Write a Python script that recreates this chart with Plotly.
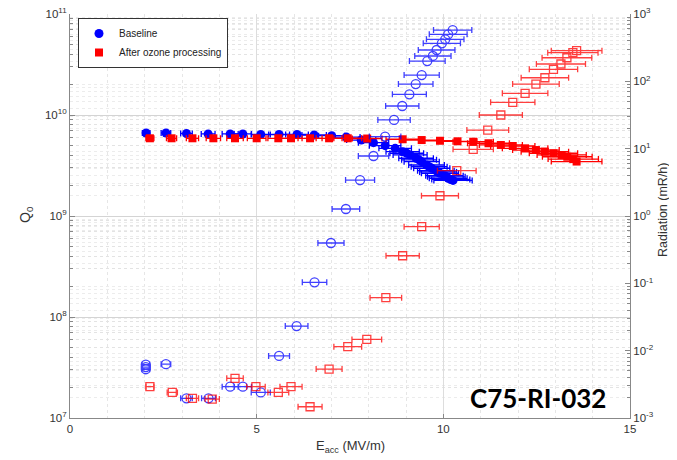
import plotly.graph_objects as go

# ---------------- data ----------------
base_q_E = [2.04, 2.57, 3.12, 3.70, 4.29, 4.63, 5.11, 5.60, 6.08, 6.54, 7.01, 7.40, 7.80, 8.13,
            8.44, 8.71, 8.91, 9.02, 9.11, 9.27, 9.35, 9.42, 9.55, 9.62, 9.69, 9.80, 9.86, 9.91,
            10.03, 10.08, 10.13, 10.20, 10.26]
base_q = [6.64e9, 6.64e9, 6.56e9, 6.49e9, 6.49e9, 6.49e9, 6.41e9, 6.41e9, 6.41e9, 6.34e9, 6.24e9,
          6.05e9, 5.65e9, 5.32e9, 4.97e9, 4.68e9, 4.33e9, 4.18e9, 4.02e9, 3.73e9, 3.60e9, 3.45e9,
          3.20e9, 3.08e9, 2.97e9, 2.81e9, 2.73e9, 2.65e9, 2.51e9, 2.44e9, 2.36e9, 2.30e9, 2.25e9]

base_r_E = [2.03, 2.03, 2.03, 2.57, 3.12, 3.71, 4.29, 4.63, 5.11, 5.60, 6.07, 6.55, 6.99, 7.39,
            7.77, 8.13, 8.44, 8.68, 8.90, 9.09, 9.26, 9.42, 9.57, 9.72, 9.82, 9.96, 10.05, 10.13, 10.25]
base_r = [0.0062, 0.0057, 0.0053, 0.0063, 0.00196, 0.00196, 0.00292, 0.00292, 0.0024, 0.00834,
          0.0232, 0.1035, 0.397, 1.27, 3.42, 7.78, 15.1, 26.7, 43.0, 64.2, 91.2, 124, 200, 238,
          292, 367, 421, 499, 578]

ozone_q_E = [2.14, 2.72, 3.28, 3.84, 4.42, 5.00, 5.58, 5.92, 6.43, 6.94, 7.44, 7.96, 8.91, 9.42,
             9.91, 10.38, 10.80, 11.21, 11.54, 11.86, 12.19, 12.48, 12.72, 12.95, 13.17, 13.32,
             13.48, 13.57]
ozone_q = [5.88e9, 5.88e9, 5.88e9, 5.88e9, 5.88e9, 5.88e9, 5.88e9, 5.88e9, 5.88e9, 5.88e9, 5.88e9,
           5.85e9, 5.75e9, 5.65e9, 5.56e9, 5.49e9, 5.44e9, 5.25e9, 5.05e9, 4.93e9, 4.68e9, 4.50e9,
           4.33e9, 4.18e9, 4.02e9, 3.86e9, 3.66e9, 3.46e9]

ozone_r_E = [2.14, 2.74, 3.28, 3.81, 4.42, 4.98, 5.58, 5.92, 6.43, 6.94, 7.44, 7.95, 8.46, 8.91,
             9.42, 9.91, 10.36, 10.80, 11.19, 11.54, 11.86, 12.19, 12.48, 12.72, 12.95, 13.15,
             13.31, 13.47, 13.57]
ozone_r = [0.00292, 0.0024, 0.00196, 0.00191, 0.00388, 0.00292, 0.0024, 0.00292, 0.00147, 0.00533,
           0.01146, 0.0147, 0.0612, 0.257, 0.694, 2.0, 4.71, 9.78, 18.9, 31.6, 48.7, 66.4, 91.2,
           113, 151, 181, 224, 266, 285]

x_ticks = [0, 5, 10, 15]
q_tickvals = [1e7, 1e8, 1e9, 1e10, 1e11]
q_ticktext = ["10<sup>7</sup>", "10<sup>8</sup>", "10<sup>9</sup>", "10<sup>10</sup>", "10<sup>11</sup>"]
r_tickvals = [1e-3, 1e-2, 1e-1, 1e0, 1e1, 1e2, 1e3]
r_ticktext = ["10<sup>-3</sup>", "10<sup>-2</sup>", "10<sup>-1</sup>", "10<sup>0</sup>",
              "10<sup>1</sup>", "10<sup>2</sup>", "10<sup>3</sup>"]

BLUE = "#0000ff"
RED = "#ff0000"
FONT = "Liberation Sans, Arial, sans-serif"

# page has an 8px body margin; figure sized so that it fills the 677x460 window
OFF = 8
W, H = 669, 452
ML, MT = 70 - OFF, 14 - OFF
MR = W - (630 - OFF)
MB = H - (418 - OFF)

fig = go.Figure()

def err(color):
    return dict(type="percent", value=5, color=color, thickness=1.3, width=3, visible=True)

# radiation (open markers, right axis) drawn first
fig.add_trace(go.Scatter(
    x=base_r_E, y=base_r, yaxis="y2", mode="markers", name="Baseline",
    legendgroup="b", showlegend=False, opacity=0.75,
    marker=dict(symbol="circle-open", size=9, color=BLUE, line=dict(width=1.3)),
    error_x=err(BLUE)))
fig.add_trace(go.Scatter(
    x=ozone_r_E, y=ozone_r, yaxis="y2", mode="markers", name="After ozone processing",
    legendgroup="o", showlegend=False, opacity=0.75,
    marker=dict(symbol="square-open", size=8, color=RED, line=dict(width=1.3)),
    error_x=err(RED)))

# Q0 (filled markers, left axis)
fig.add_trace(go.Scatter(
    x=base_q_E, y=base_q, mode="markers", name="Baseline", legendgroup="b",
    marker=dict(symbol="circle", size=9, color=BLUE),
    error_x=err(BLUE)))
fig.add_trace(go.Scatter(
    x=ozone_q_E, y=ozone_q, mode="markers", name="After ozone processing", legendgroup="o",
    marker=dict(symbol="square", size=8, color=RED),
    error_x=err(RED)))

q_minor = [m * 10 ** e for e in range(7, 11) for m in range(2, 10)]
r_minor = [m * 10.0 ** e for e in range(-3, 3) for m in range(2, 10)]

axis_font = dict(family=FONT, size=11.5, color="#333333")

def px_x(px):
    return (px - OFF - ML) / (W - ML - MR)

def px_y(py):
    return (H - MB - (py - OFF)) / (H - MT - MB)

fig.update_layout(
    width=W, height=H,
    margin=dict(l=ML, r=MR, t=MT, b=MB, autoexpand=False),
    paper_bgcolor="white", plot_bgcolor="white",
    font=dict(family=FONT, size=11, color="#333333"),
    showlegend=True,
    legend=dict(x=px_x(78), y=px_y(18), xanchor="left", yanchor="top",
                bgcolor="white", bordercolor="#333333", borderwidth=1,
                font=dict(family=FONT, size=10, color="#222222"),
                tracegroupgap=0),
    xaxis=dict(range=[0, 15], tickvals=x_ticks, ticks="inside", ticklen=4,
               tickcolor="#888888", showline=True, linecolor="#888888", linewidth=1,
               mirror=False, showgrid=True, gridcolor="#dddddd", gridwidth=1,
               zeroline=False, tickfont=axis_font, automargin=False,
               ticklabeloverflow="allow",
               minor=dict(dtick=1, showgrid=True, gridcolor="#e6e6e6", griddash="dot",
                          ticks="")),
    yaxis=dict(type="log", range=[7, 11], tickmode="array", tickvals=q_tickvals,
               ticktext=q_ticktext, ticks="inside", ticklen=5, tickcolor="#888888",
               showline=True, linecolor="#888888", linewidth=1, automargin=False,
               showgrid=True, gridcolor="#d4d4d4", gridwidth=1, zeroline=False,
               tickfont=axis_font, ticklabeloverflow="allow",
               minor=dict(tickmode="array", tickvals=q_minor, ticks="inside", ticklen=3,
                          tickcolor="#888888", showgrid=True, gridcolor="#e3e3e3",
                          griddash="dot")),
    yaxis2=dict(type="log", range=[-3, 3], overlaying="y", side="right", anchor="x",
                tickmode="array", tickvals=r_tickvals, ticktext=r_ticktext,
                ticks="inside", ticklen=5, tickcolor="#888888", automargin=False,
                showline=True, linecolor="#888888", linewidth=1,
                showgrid=False, zeroline=False, tickfont=axis_font,
                ticklabeloverflow="allow",
                minor=dict(tickmode="array", tickvals=r_minor, ticks="inside", ticklen=3,
                           tickcolor="#888888", showgrid=True, gridcolor="#ececec",
                           griddash="dot")),
    annotations=[
        dict(text="<b>C75-RI-032</b>", xref="paper", yref="paper",
             x=px_x(538), y=px_y(398), xanchor="center", yanchor="middle", showarrow=False,
             font=dict(family="Lato, Open Sans, sans-serif", size=26, color="black")),
        dict(text="E<sub>acc</sub> (MV/m)", xref="paper", yref="paper",
             x=px_x(350), y=px_y(446), xanchor="center", yanchor="middle", showarrow=False,
             font=dict(family=FONT, size=13, color="#333333")),
        dict(text="Q<sub>0</sub>", xref="paper", yref="paper", textangle=-90,
             x=px_x(26), y=px_y(215), xanchor="center", yanchor="middle", showarrow=False,
             font=dict(family=FONT, size=14, color="#333333")),
        dict(text="Radiation (mR/h)", xref="paper", yref="paper", textangle=-90,
             x=px_x(663), y=px_y(210), xanchor="center", yanchor="middle", showarrow=False,
             font=dict(family=FONT, size=12.5, color="#333333")),
    ],
)

fig.write_html("out.html")
